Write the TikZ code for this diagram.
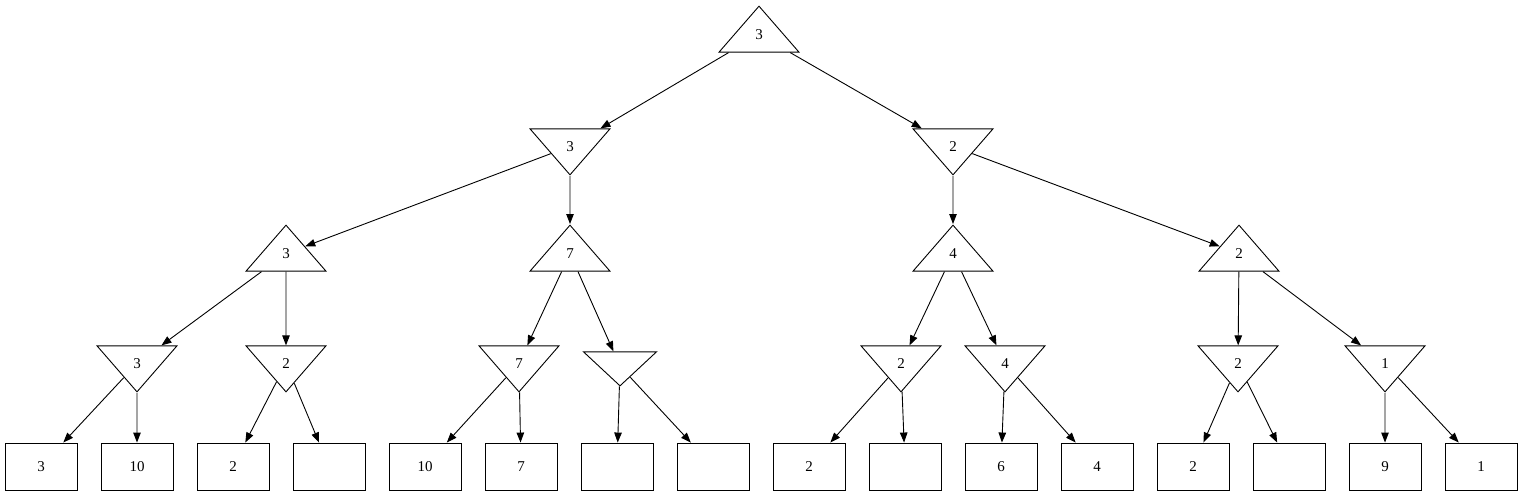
\documentclass[tikz,border=0pt]{standalone}
\usepackage{fontspec}
\setmainfont{Liberation Serif}
\usetikzlibrary{shapes.geometric,arrows.meta}

\begin{document}
\begin{tikzpicture}[x=1pt,y=-1pt,line width=0.9pt,font=\fontsize{15}{17}\selectfont,
  maxnode/.style={draw,isosceles triangle,isosceles triangle stretches,shape border rotate=90,minimum width=80pt,minimum height=46pt,inner sep=0pt,anchor=apex},
  minnode/.style={maxnode,shape border rotate=270},
  emptynode/.style={minnode,minimum width=73pt,minimum height=34pt},
  leafnode/.style={draw,rectangle,minimum width=72pt,minimum height=47pt,inner sep=0pt},
  move/.style={-{Triangle[length=10pt,width=7.5pt]}}]
\useasboundingbox (0,0) rectangle (1523,496);
% max and min levels
\node[maxnode] (r) at (759,5) {3};
\node[minnode] (a) at (570,176) {3};
\node[minnode] (b) at (953,176) {2};
\node[maxnode] (aa) at (286,224) {3};
\node[maxnode] (ab) at (570,224) {7};
\node[maxnode] (ba) at (953,224) {4};
\node[maxnode] (bb) at (1239,224) {2};
\node[minnode] (aaa) at (137,393) {3};
\node[minnode] (aab) at (286,393) {2};
\node[minnode] (aba) at (519,393) {7};
\node[emptynode] (abb) at (620,387) {};
\node[minnode] (baa) at (901,393) {2};
\node[minnode] (bab) at (1005,393) {4};
\node[minnode] (bba) at (1238,393) {2};
\node[minnode] (bbb) at (1385,393) {1};
% leaves
\foreach \i/\v in %
{1/3,2/10,3/2,4/,5/10,6/7,7/,8/,9/2,10/,11/6,12/4,13/2,14/,15/9,16/1} {
   \node[leafnode] (l\i) at (96*\i-55,466.5) {\v};
}
\foreach \p/\c in %
{r/a,r/b,a/aa,a/ab,b/ba,b/bb,aa/aaa,aa/aab,ab/aba,ab/abb,ba/baa,ba/bab,bb/bba,bb/bbb} {
   \draw[move] (\p) -- (\c);
}
\foreach \p/\c in %
{aaa/1,aaa/2,aab/3,aab/4,aba/5,aba/6,abb/7,abb/8,baa/9,baa/10,bab/11,bab/12,bba/13,bba/14,bbb/15,bbb/16} {
   \draw[move] (\p) -- (l\c);
}
\end{tikzpicture}
\end{document}
